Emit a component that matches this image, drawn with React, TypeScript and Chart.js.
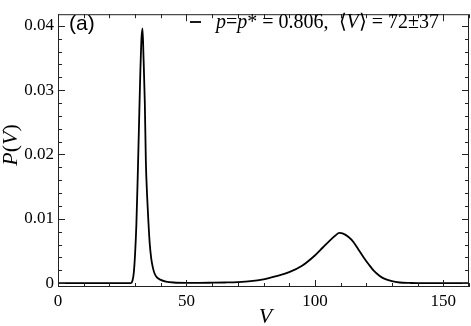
import { useEffect, useRef } from 'react';
import { Chart, registerables } from 'chart.js';

Chart.register(...registerables);

// ---- data ----
const vValues = [
  0, 10, 20, 28, 28.5, 29, 29.5, 30, 30.5, 31, 31.5, 32, 32.5, 32.9, 33.3, 33.8, 34.2, 34.7,
  35.2, 35.7, 36.3, 37, 37.6, 38.5, 40, 42, 45, 50, 55, 60, 65, 70, 75, 80, 85, 90, 95, 100,
  103, 106, 108, 109.5, 111, 113, 115, 117, 119, 121, 123, 125, 127, 130, 133, 137, 140, 150, 160,
];
const pValues = [
  0, 0, 0, 0, 0.00002, 0.0004, 0.0016, 0.0045, 0.009, 0.016, 0.024, 0.032, 0.038, 0.0396, 0.035,
  0.028, 0.019, 0.0135, 0.0095, 0.0062, 0.0038, 0.0023, 0.0015, 0.0009, 0.0005, 0.00025, 0.0001,
  0.00005, 0.00005, 0.00007, 0.0001, 0.00016, 0.0003, 0.0006, 0.0011, 0.0017, 0.0027, 0.0043,
  0.0055, 0.0067, 0.0074, 0.0078, 0.0077, 0.0072, 0.0064, 0.0052, 0.004, 0.0029, 0.0019, 0.0012,
  0.0007, 0.0003, 0.0001, 0.00003, 0, 0, 0,
];

const xTickValues = [0, 50, 100, 150];
const yTickValues = [0, 0.01, 0.02, 0.03, 0.04];
const xMinorStep = 10;
const yMinorStep = 0.002;
const xMin = 0;
const xMax = 160;
const yMin = -0.0006;
const yMax = 0.0418;

const panelLabel = '(a)';
const xTitle = 'V';
const legendSegments: [string, boolean][] = [
  ['p', true],
  ['=', false],
  ['p', true],
  ['* = 0.806,  \u27E8', false],
  ['V', true],
  ['\u27E9 = 72\u00B137', false],
];

const SERIF = '"Liberation Serif", "Times New Roman", serif';
const SANS = '"Liberation Sans", Arial, sans-serif';

const decorPlugin = {
  id: 'decor',
  afterDraw(chart: any) {
    const ctx = chart.ctx as CanvasRenderingContext2D;
    const { left, right, top, bottom } = chart.chartArea;
    const xs = chart.scales.x;
    const ys = chart.scales.y;
    ctx.save();
    ctx.strokeStyle = '#222';
    ctx.lineWidth = 1;
    // frame
    ctx.strokeRect(left + 0.5, top + 0.5, right - left - 1, bottom - top - 1);
    // x ticks (bottom and top, inward)
    ctx.beginPath();
    for (let v = xMin; v <= xMax + 1e-9; v += xMinorStep) {
      const px = Math.round(xs.getPixelForValue(v)) + 0.5;
      const major = xTickValues.includes(v);
      const len = major ? 7 : 4;
      ctx.moveTo(px, bottom);
      ctx.lineTo(px, bottom - len);
      ctx.moveTo(px, top);
      ctx.lineTo(px, top + len);
    }
    // y ticks (left and right, inward)
    for (let i = 0; i * yMinorStep <= 0.04 + 1e-9; i++) {
      const v = i * yMinorStep;
      const py = Math.round(ys.getPixelForValue(v)) + 0.5;
      const major = i % 5 === 0;
      const len = major ? 7 : 4;
      ctx.moveTo(left, py);
      ctx.lineTo(left + len, py);
      ctx.moveTo(right, py);
      ctx.lineTo(right - len, py);
    }
    ctx.stroke();

    ctx.fillStyle = '#000';
    // axis titles
    ctx.font = `italic 22px ${SERIF}`;
    ctx.textAlign = 'center';
    ctx.textBaseline = 'alphabetic';
    ctx.fillText(xTitle, (left + right) / 2 + 2, 323);

    ctx.save();
    ctx.translate(17, 145);
    ctx.rotate(-Math.PI / 2);
    ctx.textAlign = 'left';
    const parts: [string, boolean][] = [['P', true], ['(', false], ['V', true], [')', false]];
    let total = 0;
    for (const [t, it] of parts) {
      ctx.font = `${it ? 'italic ' : ''}22px ${SERIF}`;
      total += ctx.measureText(t).width;
    }
    let cx = -total / 2;
    for (const [t, it] of parts) {
      ctx.font = `${it ? 'italic ' : ''}22px ${SERIF}`;
      ctx.fillText(t, cx, 0);
      cx += ctx.measureText(t).width;
    }
    ctx.restore();

    // panel label
    ctx.font = `21px ${SANS}`;
    ctx.textAlign = 'left';
    ctx.fillText(panelLabel, 69, 30);

    // legend
    ctx.beginPath();
    ctx.lineWidth = 1.8;
    ctx.strokeStyle = '#000';
    ctx.moveTo(190, 22);
    ctx.lineTo(201, 22);
    ctx.stroke();
    let lx = 216;
    for (const [t, it] of legendSegments) {
      ctx.font = `${it ? 'italic ' : ''}20px ${SERIF}`;
      ctx.fillText(t, lx, 28);
      lx += ctx.measureText(t).width;
    }
    ctx.restore();
  },
};

export default function App() {
  const ref = useRef<HTMLCanvasElement | null>(null);
  useEffect(() => {
    document.body.style.margin = '0';
    const canvas = ref.current!;
    const data = vValues.map((v, i) => ({ x: v, y: pValues[i] }));
    const chart = new Chart(canvas, {
      type: 'line',
      data: {
        datasets: [
          {
            data,
            borderColor: '#000',
            borderWidth: 1.8,
            pointRadius: 0,
            cubicInterpolationMode: 'monotone',
            fill: false,
          },
        ],
      },
      options: {
        animation: false,
        responsive: false,
        maintainAspectRatio: false,
        layout: { padding: { left: 0, right: 2, top: 2, bottom: 0 } },
        plugins: { legend: { display: false }, tooltip: { enabled: false } },
        scales: {
          x: {
            type: 'linear',
            min: xMin,
            max: xMax,
            grid: { display: false, drawTicks: false },
            border: { display: false },
            afterBuildTicks: (s: any) => {
              s.ticks = xTickValues.map((v) => ({ value: v }));
            },
            afterFit: (s: any) => {
              s.height = 39;
            },
            ticks: {
              color: '#000',
              padding: 4,
              maxRotation: 0,
              font: { family: SERIF, size: 17 },
              callback: (v: any) => String(v),
            },
          },
          y: {
            type: 'linear',
            min: yMin,
            max: yMax,
            grid: { display: false, drawTicks: false },
            border: { display: false },
            afterBuildTicks: (s: any) => {
              s.ticks = yTickValues.map((v) => ({ value: v }));
            },
            afterFit: (s: any) => {
              s.width = 58;
            },
            ticks: {
              color: '#000',
              padding: 4,
              font: { family: SERIF, size: 17 },
              callback: (v: any) => String(v),
            },
          },
        },
      },
      plugins: [decorPlugin],
    } as any);
    return () => chart.destroy();
  }, []);
  return (
    <div style={{ position: 'absolute', left: 0, top: 0, width: 471, height: 326 }}>
      <canvas ref={ref} width={471} height={326} style={{ width: 471, height: 326, display: 'block' }} />
    </div>
  );
}
